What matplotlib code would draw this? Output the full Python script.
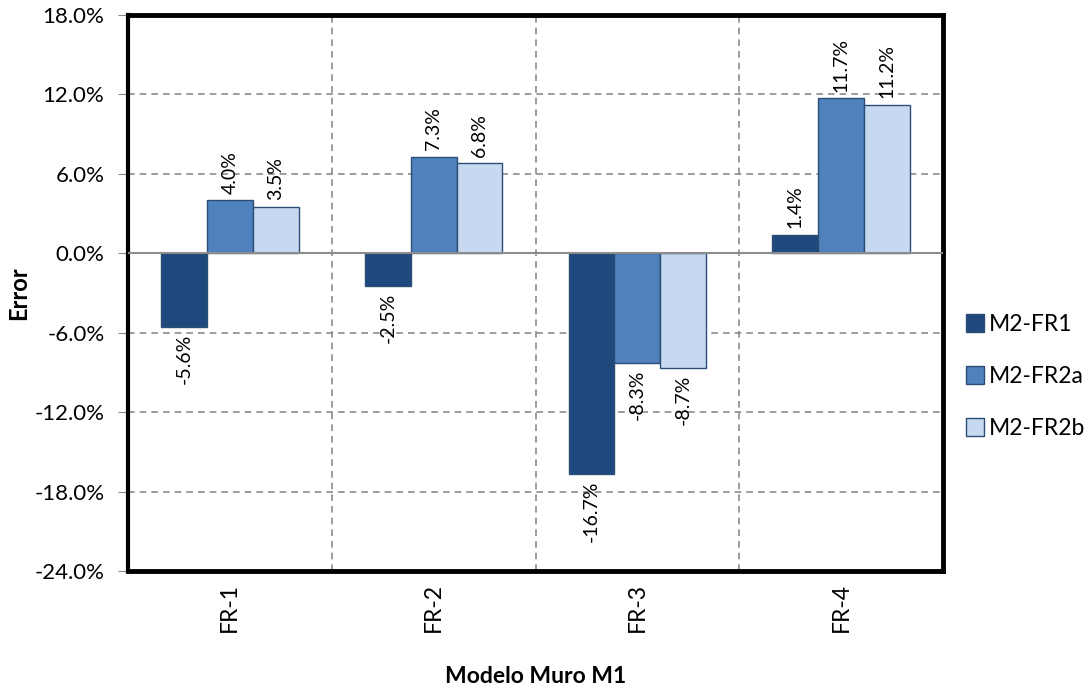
import numpy as np
import matplotlib.pyplot as plt
from matplotlib.ticker import FuncFormatter

plt.rcParams['font.family'] = ['Lato', 'DejaVu Sans']

categories = ['FR-1', 'FR-2', 'FR-3', 'FR-4']
series_names = ['M2-FR1', 'M2-FR2a', 'M2-FR2b']
m2_fr1 = [-5.6, -2.5, -16.7, 1.4]
m2_fr2a = [4.0, 7.3, -8.3, 11.7]
m2_fr2b = [3.5, 6.8, -8.7, 11.2]
colors = ['#1F497D', '#4F81BD', '#C6D9F1']

fig = plt.figure(figsize=(10.88, 6.92), dpi=100)
ax = fig.add_axes([128 / 1088, 1 - 571 / 692, 815 / 1088, 556 / 692])

x = np.arange(len(categories))
w = 0.225
for k, vals in enumerate([m2_fr1, m2_fr2a, m2_fr2b]):
    pos = x + (k - 1) * w
    ax.bar(pos, vals, w, color=colors[k], edgecolor='#2C4D75', linewidth=1.0,
           label=series_names[k], zorder=3)
    for p, v in zip(pos, vals):
        if v >= 0:
            ax.text(p, v + 0.5, f'{v:.1f}%', rotation=90, ha='center', va='bottom',
                    fontsize=14)
        else:
            ax.text(p, v - 0.5, f'{v:.1f}%', rotation=90, ha='center', va='top',
                    fontsize=14)

ax.set_xlim(-0.5, 3.5)
ax.set_ylim(-24, 18)
ax.set_yticks(np.arange(-24, 19, 6))
ax.yaxis.set_major_formatter(FuncFormatter(lambda v, _: f'{v:.1f}%'))
ax.set_xticks(x)
ax.set_xticklabels(categories, rotation=90)
ax.tick_params(axis='x', length=0, labelsize=16.5, pad=9)
ax.tick_params(axis='y', length=7, color='#888888', labelsize=16, pad=10)

for yv in [-18, -12, -6, 6, 12]:
    ax.axhline(yv, color='#8C8C8C', linestyle=(0, (4, 3)), linewidth=1.2, zorder=1)
for xv in [0.5, 1.5, 2.5]:
    ax.axvline(xv, color='#8C8C8C', linestyle=(0, (4, 3)), linewidth=1.2, zorder=1)
ax.axhline(0, color='#8C8C8C', linewidth=1.5, zorder=4)
ax.plot([3.5, 3.51], [0, 0], color='#8C8C8C', lw=1.5, clip_on=False)
ax.plot([3.51, 3.51], [-0.6, 0.6], color='#8C8C8C', lw=1.2, clip_on=False)

for side in ['top', 'right', 'bottom']:
    ax.spines[side].set_linewidth(3.5)
    ax.spines[side].set_color('black')
ax.spines['left'].set_linewidth(3)
ax.spines['left'].set_color('black')

ax.set_ylabel('Error', fontsize=17, fontweight='bold', labelpad=3)
ax.set_xlabel('Modelo Muro M1', fontsize=16.5, fontweight='bold', labelpad=24)

ax.legend(loc='center left', bbox_to_anchor=(1.0, 0.35), frameon=False,
          fontsize=16.5, handlelength=0.8, handleheight=0.8, handletextpad=0.2,
          labelspacing=1.35, borderpad=0, borderaxespad=1.0)

fig.savefig('out.png', dpi=100)
